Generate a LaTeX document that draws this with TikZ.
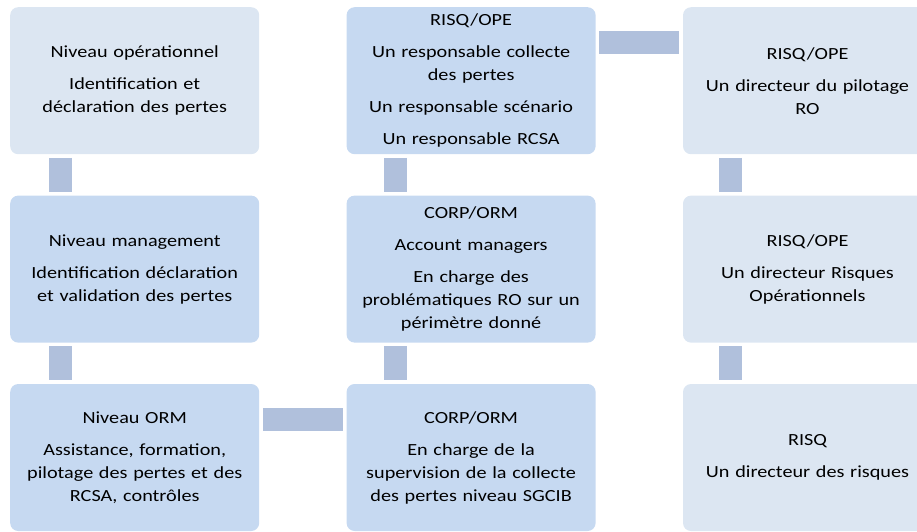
\documentclass[tikz,border=0pt]{standalone}
\usepackage{fontspec}
\setmainfont{Carlito}[FakeStretch=1.19]
\usetikzlibrary{positioning}
\definecolor{boxdark}{RGB}{198,217,241}
\definecolor{boxlight}{RGB}{220,230,242}
\definecolor{linkblue}{RGB}{176,192,220}
\tikzset{
node distance=41pt and 87pt, % gaps between the boxes
box/.style={rounded corners=8pt, minimum width=249pt, minimum height=147pt, text width=240pt, align=center, inner sep=0pt, font=\fontsize{17}{23}\selectfont}, % every box
dark/.style={box, fill=boxdark}, % darker boxes
light/.style={box, fill=boxlight}, % lighter boxes
link/.style={draw=linkblue, line width=23pt, shorten <=3.5pt, shorten >=3.5pt}, % the bars between boxes
}
\begin{document}
\begin{tikzpicture}
    \useasboundingbox (0,0) rectangle (917pt,-531pt);
    \clip (0,0) rectangle (917pt,-531pt);
    \node[light, anchor=north west] (l1) at (10pt,-7pt) {Niveau opérationnel\\[9pt] Identification et\\déclaration des pertes};
    \node[dark, below=of l1] (l2) {Niveau management\\[9pt] Identification déclaration\\et validation des pertes};
    \node[dark, below=of l2] (l3) {Niveau ORM\\[9pt] Assistance, formation,\\pilotage des pertes et des\\RCSA, contrôles};
    \node[dark, right=of l1] (m1) {RISQ/OPE\\[9pt] Un responsable collecte\\des pertes\\[9pt] Un responsable scénario\\[9pt] Un responsable RCSA};
    \node[dark, right=of l2] (m2) {CORP/ORM\\[9pt] Account managers\\[9pt] En charge des\\problématiques RO sur un\\périmètre donné};
    \node[dark, right=of l3] (m3) {CORP/ORM\\[9pt] En charge de la\\supervision de la collecte\\des pertes niveau SGCIB};
    \node[light, right=of m1] (r1) {RISQ/OPE\\[9pt] Un directeur du pilotage\\RO};
    \node[light, right=of m2] (r2) {RISQ/OPE\\[9pt] Un directeur Risques\\Opérationnels};
    \node[light, right=of m3] (r3) {RISQ\\[9pt] Un directeur des risques};
    \draw[link] ([xshift=50pt]l1.south west) -- ([xshift=50pt]l2.north west);
    \draw[link] ([xshift=50pt]l2.south west) -- ([xshift=50pt]l3.north west);
    \draw[link] ([xshift=49pt]m1.south west) -- ([xshift=49pt]m2.north west);
    \draw[link] ([xshift=49pt]m2.south west) -- ([xshift=49pt]m3.north west);
    \draw[link] ([xshift=48pt]r1.south west) -- ([xshift=48pt]r2.north west);
    \draw[link] ([xshift=48pt]r2.south west) -- ([xshift=48pt]r3.north west);
    \draw[link] ([yshift=-35pt]m1.north east) -- ([yshift=-35pt]r1.north west);
    \draw[link] ([yshift=-36pt]l3.north east) -- ([yshift=-36pt]m3.north west);
\end{tikzpicture}
\end{document}
